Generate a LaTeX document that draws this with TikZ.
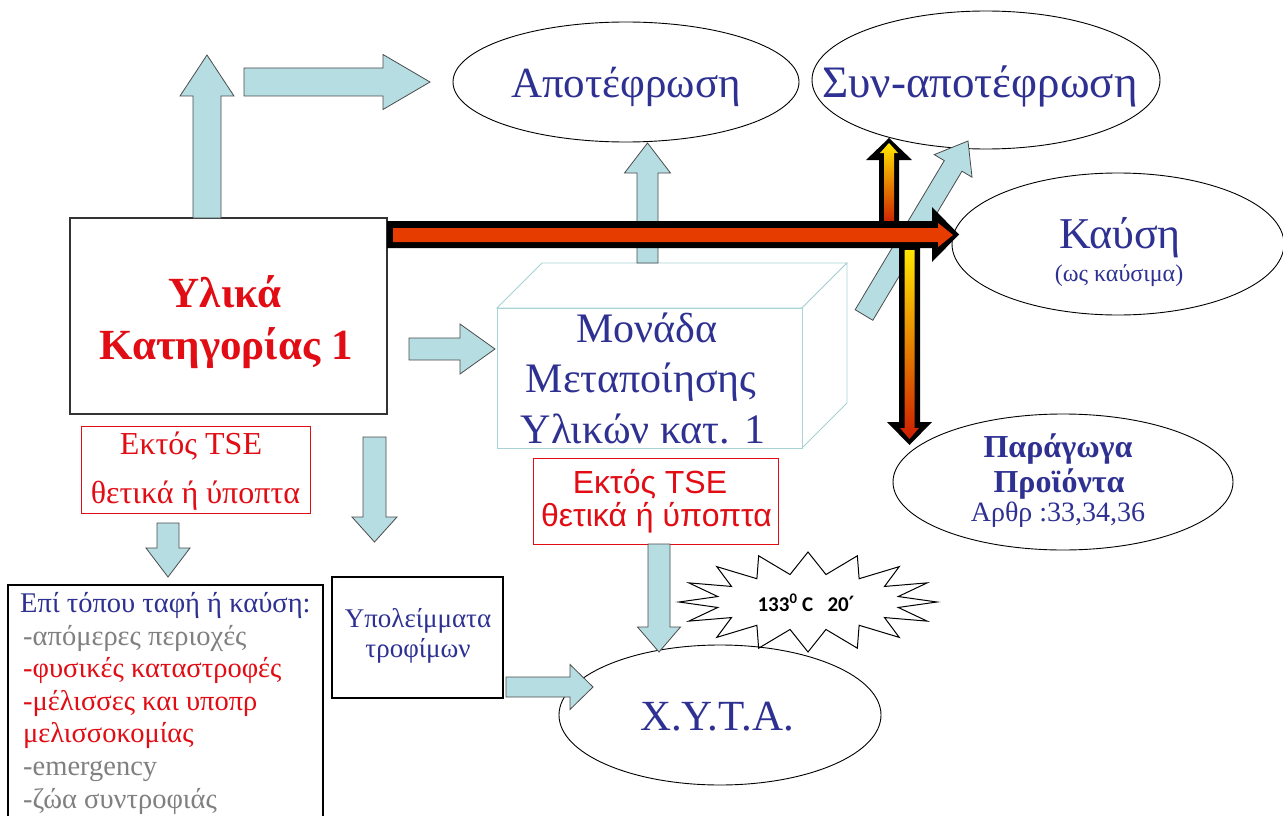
\documentclass[tikz,border=0pt]{standalone}
\usepackage{fontspec}
\setmainfont{Liberation Serif}
\newfontfamily\sansf{Liberation Sans}
\newfontfamily\calib{Carlito}
\newfontfamily\dejavu{DejaVu Sans}
\usetikzlibrary{shapes.geometric}
\definecolor{dblue}{RGB}{46,49,146}
\definecolor{rred}{RGB}{225,12,20}
\definecolor{lblue}{RGB}{182,221,226}
\definecolor{boxcyan}{RGB}{168,210,212}
\definecolor{gtext}{RGB}{128,128,128}
\definecolor{fireA}{RGB}{205,30,0}
\definecolor{fireB}{RGB}{255,140,0}
\definecolor{fireY}{RGB}{255,230,0}
\definecolor{fireHa}{RGB}{230,60,0}
\definecolor{fireHb}{RGB}{255,160,20}
\newcommand\fs[2]{\fontsize{#1}{#2}\selectfont}
% block arrow: style, x1, y1, x2, y2, shaft half width, head half width, head length
\newcommand\blkarrow[8]{%
  \pgfmathsetmacro\baAng{atan2(#3-#5,#4-#2)}%
  \pgfmathsetmacro\baLen{veclen(#4-#2,#5-#3)}%
  \pgfmathsetmacro\baBase{\baLen-#8}%
  \path[#1,shift={(#2,#3)},rotate=\baAng,x=1pt,y=1pt] (0,-#6) -- (\baBase,-#6) -- (\baBase,-#7) -- (\baLen,0) -- (\baBase,#7) -- (\baBase,#6) -- (0,#6) -- cycle;}
\begin{document}
\begin{tikzpicture}[x=1pt,y=-1pt,
  ell/.style={draw=black, line width=0.9pt, ellipse, inner sep=0pt},
  barrow/.style={fill=lblue, draw=black!70, line width=0.8pt},
  box3d/.style={draw=boxcyan, line width=0.9pt, fill=white},
  fireout/.style={fill=black},
  firev/.style={top color=fireY, middle color=fireB, bottom color=fireA},
  fireh/.style={top color=fireHa, middle color=fireHb, bottom color=fireHa},
  bt/.style={anchor=base, text=dblue, inner sep=0pt},
  lt/.style={anchor=base west, inner sep=0pt}]
\useasboundingbox (0,0) rectangle (1283,816);
\clip (0,0) rectangle (1283,816);
\fill[white] (0,0) rectangle (1283,816);

% ellipses
\node[ell, minimum width=346pt, minimum height=120pt] (apot) at (626,82) {};
\node[ell, minimum width=348pt, minimum height=138pt] (synapot) at (986,80) {};
\node[ell, minimum width=332pt, minimum height=142pt] (kafsi) at (1118,244) {};
\node[ell, minimum width=340pt, minimum height=136pt] (parag) at (1063,482) {};
\node[ell, minimum width=322pt, minimum height=140pt] (xyta) at (720,715) {};

% 3D box
\draw[box3d] (497,308) -- (542,263) -- (847,263) -- (802,308) -- cycle;
\draw[box3d] (802,308) -- (847,263) -- (847,403) -- (802,448) -- cycle;
\node[box3d, minimum width=305pt, minimum height=140pt, inner sep=0pt] (unit) at (649.5,378) {};

% main box
\node[draw=black!80, line width=1.2pt, fill=white, minimum width=317pt, minimum height=196pt, inner sep=0pt] (mat) at (228.5,316) {};

% red boxes
\node[draw=rred, line width=0.9pt, minimum width=229pt, minimum height=87pt, inner sep=0pt] (tse1) at (195.5,469.5) {};
\node[draw=rred, line width=0.9pt, minimum width=245pt, minimum height=86pt, inner sep=0pt] (tse2) at (655.5,501) {};

% lower boxes
\draw[black, line width=2.4pt] (8,585) rectangle (323,840);
\node[draw=black, line width=1.8pt, minimum width=171pt, minimum height=121pt, inner sep=0pt] (food) at (417.5,637.5) {};

% blue block arrows
\blkarrow{barrow}{207}{218}{207}{55}{14}{27}{41}
\blkarrow{barrow}{244}{82}{430}{82}{14}{27.5}{47}
\blkarrow{barrow}{647.5}{263}{647.5}{143}{10.5}{23}{30}
\blkarrow{barrow}{409}{349}{495}{349}{11}{25}{35}
\blkarrow{barrow}{374.5}{437}{374.5}{542}{11.5}{22.5}{25}
\blkarrow{barrow}{168}{523}{168}{577}{11}{22}{29}
\blkarrow{barrow}{506}{687}{593}{687}{10}{22.5}{23}
\blkarrow{barrow}{659}{544}{659}{652}{11}{21.5}{25}
\blkarrow{barrow}{864}{315}{968}{141}{10.3}{22}{29}

% starburst
\draw[black, line width=1pt, shift={(808,602)}] (0:129 and 50)
  \foreach \a in {0,22.5,...,337.5}{ -- ({\a+11.25}:92 and 28) -- ({\a+22.5}:129 and 50) } -- cycle;
\node[inner sep=0pt, anchor=base, font=\calib\bfseries\fs{21}{24}] (temp) at (806,611) {133\textsuperscript{0} C\ \ \ 20{\dejavu ′}};

% fire arrows
\path[fireout] (879,224) -- (879,160) -- (866,160) -- (889,138) -- (912,160) -- (899,160) -- (899,224) -- cycle;
\shade[firev] (884,224) -- (884,153) -- (880,153) -- (889,143) -- (898,153) -- (894,153) -- (894,224) -- cycle;
\path[fireout] (899,240) -- (899,422) -- (887,422) -- (909.5,445) -- (932,422) -- (920,422) -- (920,240) -- cycle;
\shade[firev] (904.5,250) -- (904.5,428) -- (900,428) -- (909.5,439) -- (919,428) -- (914.5,428) -- (914.5,250) -- cycle;
\path[fireout] (387,221) -- (932,221) -- (932,207) -- (959,234.5) -- (932,262) -- (932,248) -- (387,248) -- cycle;
\shade[fireh] (393,228) -- (938,228) -- (938,223) -- (953,235) -- (938,247) -- (938,242) -- (393,242) -- cycle;

% texts
\node[bt, font=\fs{43}{48}] (tapot) at (626,98) {Αποτέφρωση};
\node[bt, font=\fs{45}{50}] (tsyn) at (980,98) {Συν-αποτέφρωση};
\node[bt, font=\fs{44}{48}] (tkaf) at (1120,248) {Καύση};
\node[bt, font=\fs{24}{28}] (tkaf2) at (1119,281) {(ως καύσιμα)};
\node[bt, font=\bfseries\fs{32}{36}] (tpar1) at (1058,457) {Παράγωγα};
\node[bt, font=\bfseries\fs{32}{36}] (tpar2) at (1059,492) {Προϊόντα};
\node[bt, font=\fs{28}{32}] (tpar3) at (1058,521) {Αρθρ :33,34,36};
\node[bt, font=\fs{43}{48}] (txyta) at (717,730) {Χ.Υ.Τ.Α.};
\node[bt, font=\fs{42}{46}] (tu1) at (647,342) {Μονάδα};
\node[bt, font=\fs{42}{46}] (tu2) at (641,392) {Μεταποίησης};
\node[bt, font=\fs{42}{46}] (tu3) at (643,443) {Υλικών κατ. 1};
\node[bt, text=rred, font=\bfseries\fs{43}{48}] (tm1) at (225,307) {Υλικά};
\node[bt, text=rred, font=\bfseries\fs{43}{48}] (tm2) at (226,359) {Κατηγορίας 1};
\node[bt, text=rred, font=\fs{32}{36}] (ta1) at (191,454) {Εκτός TSE};
\node[bt, text=rred, font=\fs{32}{36}] (ta2) at (195.5,503) {θετικά ή ύποπτα};
\node[bt, text=rred, font=\sansf\fs{32}{36}] (tb1) at (650,493) {Εκτός TSE};
\node[bt, text=rred, font=\sansf\fs{32}{36}] (tb2) at (656.5,526) {θετικά ή ύποπτα};
\node[bt, font=\fs{27}{30}] (tf1) at (418,627) {Υπολείμματα};
\node[bt, font=\fs{27}{30}] (tf2) at (418,657) {τροφίμων};
\node[lt, text=dblue, font=\fs{28.5}{32}] (l1) at (20,612) {Επί τόπου ταφή ή καύση:};
\node[lt, text=gtext, font=\fs{28.5}{32}] (l2) at (23,645) {-απόμερες περιοχές};
\node[lt, text=rred, font=\fs{28.5}{32}] (l3) at (23,677) {-φυσικές καταστροφές};
\node[lt, text=rred, font=\fs{28.5}{32}] (l4) at (23,710) {-μέλισσες και υποπρ};
\node[lt, text=rred, font=\fs{28.5}{32}] (l5) at (23,742) {μελισσοκομίας};
\node[lt, text=gtext, font=\fs{28.5}{32}] (l6) at (23,775) {-emergency};
\node[lt, text=gtext, font=\fs{28.5}{32}] (l7) at (23,808) {-ζώα συντροφιάς};
\end{tikzpicture}
\end{document}
